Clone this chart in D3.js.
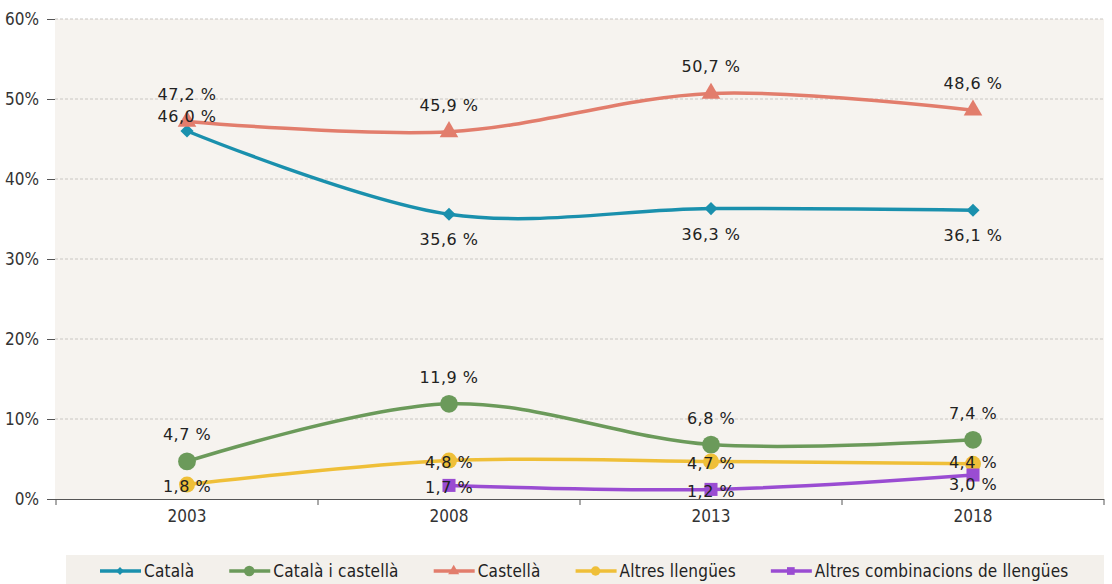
<!DOCTYPE html>
<html>
<head>
<meta charset="utf-8">
<script src="https://cdn.jsdelivr.net/npm/d3@7"></script>
<style>
  body { margin: 0; background: #fff; }
  svg { display: block; }
  .axis text { font-family: "DejaVu Sans Condensed", "DejaVu Sans", sans-serif; font-size: 17px; fill: #333; }
  .lbl { font-family: "DejaVu Sans", sans-serif; font-size: 16px; fill: #222; letter-spacing: 0.5px; }
  .leg text { font-family: "DejaVu Sans Condensed", "DejaVu Sans", sans-serif; font-size: 17px; fill: #222; letter-spacing: 0.2px; }
</style>
</head>
<body>
<div id="chart"></div>
<script>
// Data
const years = ["2003", "2008", "2013", "2018"];
const catala = [46.0, 35.6, 36.3, 36.1];
const catalaCastella = [4.7, 11.9, 6.8, 7.4];
const castella = [47.2, 45.9, 50.7, 48.6];
const altres = [1.8, 4.8, 4.7, 4.4];
const altresComb = [null, 1.7, 1.2, 3.0];
const yTicks = [0, 10, 20, 30, 40, 50, 60];

// Series setup (label placement: "above", "below", "on")
const series = [
    { name: "Català", values: catala, color: "#1a90ad", symbol: d3.symbolDiamond2, size: 110, place: "below" },
    { name: "Català i castellà", values: catalaCastella, color: "#6b9a5a", symbol: d3.symbolCircle, size: 250, place: "above" },
    { name: "Castellà", values: castella, color: "#e27d6c", symbol: d3.symbolTriangle, size: 150, place: "above" },
    { name: "Altres llengües", values: altres, color: "#efbf38", symbol: d3.symbolCircle, size: 200, place: "on" },
    { name: "Altres combinacions de llengües", values: altresComb, color: "#9a4cd2", symbol: d3.symbolSquare, size: 170, place: "on" }
];

const W = 1112, H = 584;
const svg = d3.select("#chart").append("svg")
    .attr("width", W)
    .attr("height", H);

const x = d3.scaleBand().domain(years).range([56, 1104]);
const y = d3.scaleLinear().domain([0, 60]).range([499, 19]);
const cx = d => x(d) + x.bandwidth() / 2;

// Plot background
svg.append("rect")
    .attr("x", 55).attr("y", 19)
    .attr("width", 1104 - 55).attr("height", 499 - 19)
    .attr("fill", "#f6f3ef");

// Gridlines
svg.append("g").selectAll("line")
    .data(yTicks.filter(t => t > 0))
    .enter().append("line")
    .attr("x1", 55).attr("x2", 1104)
    .attr("y1", d => y(d)).attr("y2", d => y(d))
    .attr("stroke", "#c9c6c2")
    .attr("stroke-width", 1)
    .attr("stroke-dasharray", "3,2");

// Y axis
const yAxis = svg.append("g")
    .attr("class", "axis")
    .attr("transform", "translate(55,0)")
    .call(d3.axisLeft(y).tickValues(yTicks).tickSize(8).tickPadding(8).tickFormat(d => d + "%"));
yAxis.select(".domain").remove();
yAxis.selectAll(".tick line").attr("stroke", "#555");

// X axis
const xAxis = svg.append("g")
    .attr("class", "axis")
    .attr("transform", "translate(0,499)")
    .call(d3.axisBottom(x).tickSize(0).tickPadding(11));
xAxis.select(".domain").attr("stroke", "#555").attr("d", "M55,0.5H1104");
svg.append("g").selectAll("line")
    .data(years.map(d => x(d)).concat([x(years[years.length - 1]) + x.bandwidth()]))
    .enter().append("line")
    .attr("x1", d => d).attr("x2", d => d)
    .attr("y1", 499).attr("y2", 505)
    .attr("stroke", "#555");

// Lines
const line = d3.line()
    .defined(d => d.v != null)
    .x(d => cx(d.year))
    .y(d => y(d.v))
    .curve(d3.curveCatmullRom.alpha(0.5));

const order = [1, 3, 4, 0, 2];
order.forEach(i => {
    const s = series[i];
    const pts = years.map((yr, j) => ({ year: yr, v: s.values[j] }));
    svg.append("path")
        .datum(pts)
        .attr("fill", "none")
        .attr("stroke", s.color)
        .attr("stroke-width", 3.5)
        .attr("d", line);
    svg.append("g").selectAll("path")
        .data(pts.filter(p => p.v != null))
        .enter().append("path")
        .attr("transform", p => `translate(${cx(p.year)},${y(p.v)})`)
        .attr("d", d3.symbol().type(s.symbol).size(s.size))
        .attr("fill", s.color);
});

// Data labels
const fmt = v => v.toFixed(1).replace(".", ",") + " %";
series.forEach((s, si) => {
    const pts = years.map((yr, j) => ({ year: yr, v: s.values[j], j: j }));
    svg.append("g").selectAll("text")
        .data(pts.filter(p => p.v != null))
        .enter().append("text")
        .attr("class", "lbl")
        .attr("text-anchor", "middle")
        .attr("x", p => cx(p.year))
        .attr("y", p => {
            // first Català label sits above, under the Castellà one
            if (si === 0 && p.j === 0) return y(p.v) - 9;
            if (s.place === "above") return y(p.v) - 21;
            if (s.place === "below") return y(p.v) + 31;
            // last point: the two "on" labels are pushed apart
            if (p.j === 3) return si === 3 ? y(p.v) + 4 : y(p.v) + 15;
            return y(p.v) + 7.5;
        })
        .text(p => fmt(p.v));
});

// Legend
svg.append("rect")
    .attr("x", 66).attr("y", 555)
    .attr("width", 1104 - 66).attr("height", 29)
    .attr("fill", "#f3f0eb");

const leg = svg.append("g").attr("class", "leg");
let lx = 100;
series.forEach(s => {
    const g = leg.append("g").attr("transform", `translate(${lx},571)`);
    g.append("line")
        .attr("x1", 0).attr("x2", 41)
        .attr("stroke", s.color).attr("stroke-width", 3.5);
    g.append("path")
        .attr("transform", "translate(20,0)")
        .attr("d", d3.symbol().type(s.symbol).size(s.size * 0.35))
        .attr("fill", s.color);
    const t = g.append("text")
        .attr("x", 44).attr("y", 6)
        .text(s.name);
    lx += 44 + t.node().getComputedTextLength() + 35;
});
</script>
</body>
</html>
